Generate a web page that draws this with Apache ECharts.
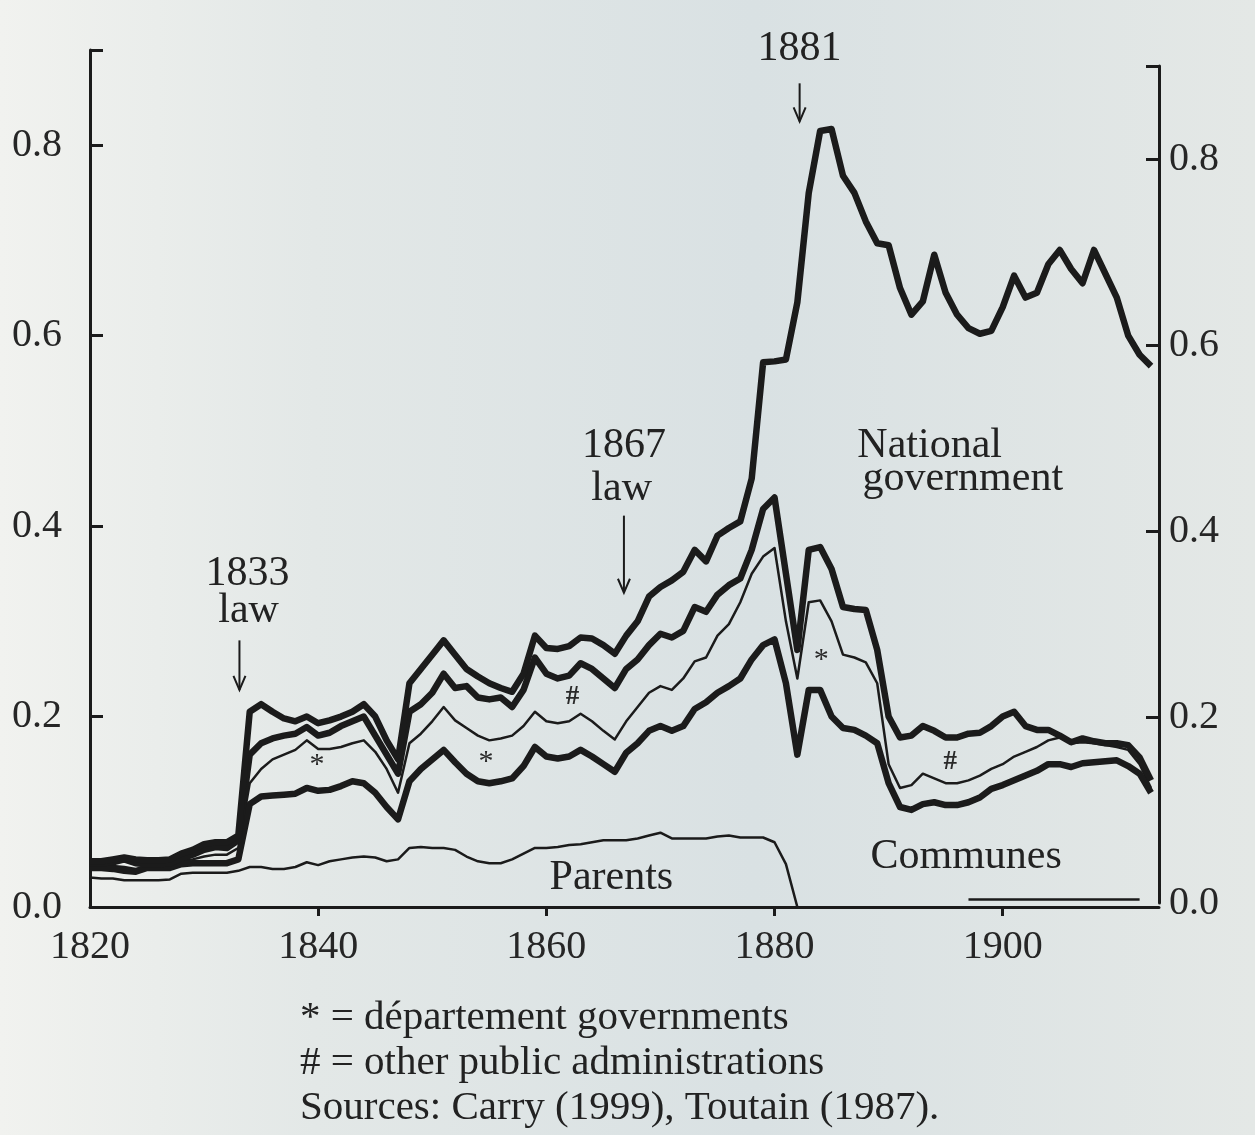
<!DOCTYPE html>
<html>
<head>
<meta charset="utf-8">
<script src="https://cdn.jsdelivr.net/npm/echarts@6/dist/echarts.min.js"></script>
<style>
    html, body { margin: 0; padding: 0; }
    #chart { width: 1255px; height: 1135px; }
</style>
</head>
<body>
<div id="chart"></div>
<script>
//年份 1820 - 1913
var firstYear = 1820;

//national government (top line)
var national = [
    0.048, 0.048, 0.050, 0.052, 0.050, 0.049, 0.049, 0.050, 0.056, 0.060,   //1820
    0.066, 0.068, 0.068, 0.075, 0.205, 0.213, 0.205, 0.198, 0.195, 0.200,   //1830
    0.193, 0.196, 0.200, 0.205, 0.213, 0.200, 0.175, 0.155, 0.235, 0.250,   //1840
    0.265, 0.280, 0.265, 0.250, 0.242, 0.235, 0.230, 0.226, 0.245, 0.285,   //1850
    0.272, 0.271, 0.274, 0.283, 0.282, 0.275, 0.266, 0.285, 0.300, 0.326,   //1860
    0.336, 0.343, 0.352, 0.375, 0.363, 0.390, 0.398, 0.405, 0.450, 0.572,   //1870
    0.573, 0.575, 0.635, 0.750, 0.815, 0.817, 0.768, 0.750, 0.720, 0.697,   //1880
    0.695, 0.650, 0.622, 0.636, 0.685, 0.645, 0.622, 0.608, 0.602, 0.605,   //1890
    0.630, 0.663, 0.640, 0.645, 0.675, 0.690, 0.670, 0.655, 0.690, 0.665,   //1900
    0.640, 0.600, 0.580, 0.568                                              //1910
];

//other public administrations (#), upper edge
var otherAdmin = [
    0.046, 0.046, 0.047, 0.050, 0.046, 0.045, 0.045, 0.046, 0.051, 0.055,
    0.060, 0.063, 0.062, 0.070, 0.160, 0.172, 0.177, 0.180, 0.182, 0.189,
    0.180, 0.183, 0.190, 0.195, 0.200, 0.180, 0.160, 0.140, 0.205, 0.213,
    0.225, 0.245, 0.230, 0.232, 0.220, 0.218, 0.220, 0.210, 0.228, 0.262,
    0.245, 0.240, 0.243, 0.256, 0.250, 0.240, 0.230, 0.250, 0.260, 0.275,
    0.287, 0.283, 0.290, 0.315, 0.310, 0.328, 0.338, 0.345, 0.375, 0.418,
    0.430, 0.350, 0.270, 0.375, 0.378, 0.355, 0.315, 0.313, 0.312, 0.270,
    0.200, 0.178, 0.180, 0.190, 0.185, 0.178, 0.178, 0.182, 0.183, 0.190,
    0.200, 0.205, 0.190, 0.186, 0.186, 0.180, 0.173, 0.177, 0.174, 0.172,
    0.172, 0.170, 0.157, 0.133
];

//département governments (*), upper edge
var departements = [
    0.043, 0.043, 0.043, 0.042, 0.040, 0.043, 0.043, 0.044, 0.048, 0.050,
    0.053, 0.055, 0.055, 0.062, 0.130, 0.145, 0.155, 0.160, 0.165, 0.175,
    0.166, 0.166, 0.168, 0.172, 0.175, 0.163, 0.145, 0.120, 0.172, 0.182,
    0.195, 0.210, 0.196, 0.188, 0.180, 0.175, 0.177, 0.180, 0.190, 0.205,
    0.195, 0.193, 0.195, 0.203, 0.195, 0.185, 0.176, 0.195, 0.210, 0.225,
    0.232, 0.228, 0.240, 0.258, 0.262, 0.285, 0.297, 0.320, 0.350, 0.368,
    0.377, 0.300, 0.240, 0.320, 0.322, 0.300, 0.265, 0.262, 0.257, 0.235,
    0.150, 0.125, 0.128, 0.140, 0.135, 0.130, 0.130, 0.133, 0.138, 0.145,
    0.150, 0.158, 0.163, 0.168, 0.175, 0.178, 0.172, 0.173, 0.172, 0.170,
    0.168, 0.165, 0.150, 0.125
];

//communes, upper edge
var communes = [
    0.041, 0.041, 0.040, 0.038, 0.037, 0.041, 0.041, 0.041, 0.045, 0.046,
    0.046, 0.046, 0.046, 0.050, 0.108, 0.116, 0.117, 0.118, 0.119, 0.125,
    0.122, 0.123, 0.127, 0.132, 0.130, 0.120, 0.105, 0.092, 0.132, 0.145,
    0.155, 0.165, 0.152, 0.140, 0.132, 0.130, 0.132, 0.135, 0.148, 0.168,
    0.158, 0.156, 0.158, 0.165, 0.158, 0.150, 0.142, 0.162, 0.172, 0.185,
    0.190, 0.185, 0.190, 0.208, 0.215, 0.225, 0.232, 0.240, 0.260, 0.275,
    0.281, 0.235, 0.160, 0.228, 0.228, 0.200, 0.188, 0.186, 0.180, 0.172,
    0.130, 0.105, 0.102, 0.108, 0.110, 0.107, 0.107, 0.110, 0.115, 0.124,
    0.128, 0.133, 0.138, 0.143, 0.150, 0.150, 0.147, 0.151, 0.152, 0.153,
    0.154, 0.148, 0.140, 0.120
];

//parents
var parents = [
    0.031, 0.030, 0.030, 0.028, 0.028, 0.028, 0.028, 0.029, 0.035, 0.036,
    0.036, 0.036, 0.036, 0.038, 0.042, 0.042, 0.040, 0.040, 0.042, 0.047,
    0.044, 0.048, 0.050, 0.052, 0.053, 0.052, 0.048, 0.050, 0.062, 0.063,
    0.062, 0.062, 0.060, 0.053, 0.048, 0.046, 0.046, 0.050, 0.056, 0.062,
    0.062, 0.063, 0.065, 0.066, 0.068, 0.070, 0.070, 0.070, 0.072, 0.075,
    0.078, 0.072, 0.072, 0.072, 0.072, 0.074, 0.075, 0.073, 0.073, 0.073,
    0.068, 0.045, 0.000, null, null, null, null, null, null, null,
    null, null, null, null, null, null, null, 0.008, 0.008, 0.008,
    0.008, 0.008, 0.008, 0.008, 0.008, 0.008, 0.008, 0.008, 0.008, 0.008,
    0.008, 0.008, 0.008, null
];

//刻度
var xTicks = [1840, 1860, 1880, 1900];
var xLabels = [1820, 1840, 1860, 1880, 1900];
var yLabels = [0, 0.2, 0.4, 0.6, 0.8];
var yTicks = [0.2, 0.4, 0.6, 0.8, 0.9];

//注释 [文字, 年份, 值]
var notes = [
    ['1881', 1882.2, 0.901],
    ['1867', 1866.8, 0.484],
    ['law', 1866.6, 0.439],
    ['1833', 1833.8, 0.350],
    ['law', 1833.9, 0.311],
    ['National', 1893.6, 0.484],
    ['government', 1896.5, 0.450],
    ['Parents', 1865.7, 0.030],
    ['Communes', 1896.8, 0.053]
];
//箭头 [年份, 起, 止]
var arrows = [
    [1882.2, 0.865, 0.825],
    [1866.8, 0.411, 0.330],
    [1833.1, 0.280, 0.228]
];
//区域记号
var marks = [
    ['*', 1839.9, 0.149],
    ['*', 1854.7, 0.152],
    ['*', 1884.1, 0.259],
    ['#', 1862.3, 0.220],
    ['#', 1895.4, 0.152]
];
var footer = [
    '* = d\u00e9partement governments',
    '# = other public administrations',
    'Sources: Carry (1999), Toutain (1987).'
];

var ink = '#1b1b1b';
var serif = '"Liberation Serif", "DejaVu Serif", serif';

function pairs(values) {
    var out = [];
    for (var i = 0; i < values.length; i++) {
        out.push([firstYear + i, values[i]]);
    }
    return out;
}

function line(name, values, width) {
    return {
        name: name,
        type: 'line',
        data: pairs(values),
        showSymbol: false,
        connectNulls: false,
        xAxisIndex: 0,
        yAxisIndex: 0,
        lineStyle: { color: ink, width: width, join: 'round' },
        z: width > 3 ? 3 : 2
    };
}

var yAxisBase = {
    type: 'value',
    min: 0,
    max: 0.9,
    splitLine: { show: false },
    axisLine: { show: true, lineStyle: { color: ink, width: 3 } },
    axisTick: { show: true, inside: true, length: 13, customValues: yTicks, lineStyle: { color: ink, width: 3 } },
    axisLabel: {
        customValues: yLabels,
        fontSize: 40,
        fontFamily: serif,
        color: '#262626',
        formatter: function (v) { return v.toFixed(1); }
    }
};

var chart = echarts.init(document.getElementById('chart'));

var option = {
    animation: false,
    backgroundColor: new echarts.graphic.LinearGradient(0, 0, 1, 0, [
        { offset: 0, color: '#f1f2ef' },
        { offset: 0.25, color: '#e3e8e7' },
        { offset: 0.6, color: '#d9e1e3' },
        { offset: 1, color: '#e4e8e6' }
    ]),
    grid: [
        { left: 90, right: 96, top: 50, bottom: 228 },
        //右轴略有倾斜, 单独一个网格
        { left: 90, right: 96, top: 66, bottom: 232 }
    ],
    xAxis: [
        {
            type: 'value',
            gridIndex: 0,
            min: 1820,
            max: 1913.7,
            splitLine: { show: false },
            axisLine: { show: true, lineStyle: { color: ink, width: 3 } },
            axisTick: { show: true, length: 9, customValues: xTicks, lineStyle: { color: ink, width: 3 } },
            axisLabel: {
                customValues: xLabels,
                margin: 20,
                fontSize: 40,
                fontFamily: serif,
                color: '#262626',
                formatter: function (v) { return String(v); }
            }
        },
        { type: 'value', gridIndex: 1, min: 1820, max: 1913.7, show: false }
    ],
    yAxis: [
        echarts.util.merge({ gridIndex: 0, position: 'left', axisLabel: { margin: 28 } }, yAxisBase),
        echarts.util.merge({ gridIndex: 1, position: 'right', axisLabel: { margin: 10 } }, yAxisBase)
    ],
    series: [
        line('Parents', parents, 2.5),
        line('Communes', communes, 6.5),
        line('D\u00e9partements', departements, 2.5),
        line('Other public administrations', otherAdmin, 6.5),
        line('National government', national, 6.5)
    ]
};
chart.setOption(option);

//注释按坐标换算成像素
function px(year, value) {
    return chart.convertToPixel({ gridIndex: 0 }, [year, value]);
}

var graphics = [];
notes.forEach(function (n) {
    var p = px(n[1], n[2]);
    graphics.push({
        type: 'text',
        x: p[0], y: p[1],
        style: { text: n[0], fill: '#222', font: '42px ' + serif, align: 'center', verticalAlign: 'middle' }
    });
});
arrows.forEach(function (a) {
    var p1 = px(a[0], a[1]), p2 = px(a[0], a[2]);
    graphics.push({
        type: 'line',
        shape: { x1: p1[0], y1: p1[1], x2: p2[0], y2: p2[1] },
        style: { stroke: ink, lineWidth: 2 }
    });
    graphics.push({
        type: 'polyline',
        shape: { points: [[p2[0] - 6, p2[1] - 14], [p2[0], p2[1]], [p2[0] + 6, p2[1] - 14]] },
        style: { stroke: ink, lineWidth: 2, fill: null }
    });
});
marks.forEach(function (m) {
    var p = px(m[1], m[2]);
    graphics.push({
        type: 'text',
        x: p[0], y: p[1],
        style: { text: m[0], fill: '#2a2a2a', font: (m[0] === '#' ? 'bold 27px ' : '30px ') + serif, align: 'center', verticalAlign: 'middle' }
    });
});
footer.forEach(function (t, i) {
    graphics.push({
        type: 'text',
        x: 300, y: 1018 + i * 45,
        style: { text: t, fill: '#222', font: '41px ' + serif, align: 'left', verticalAlign: 'middle' }
    });
});
chart.setOption({ graphic: graphics });
</script>
</body>
</html>
